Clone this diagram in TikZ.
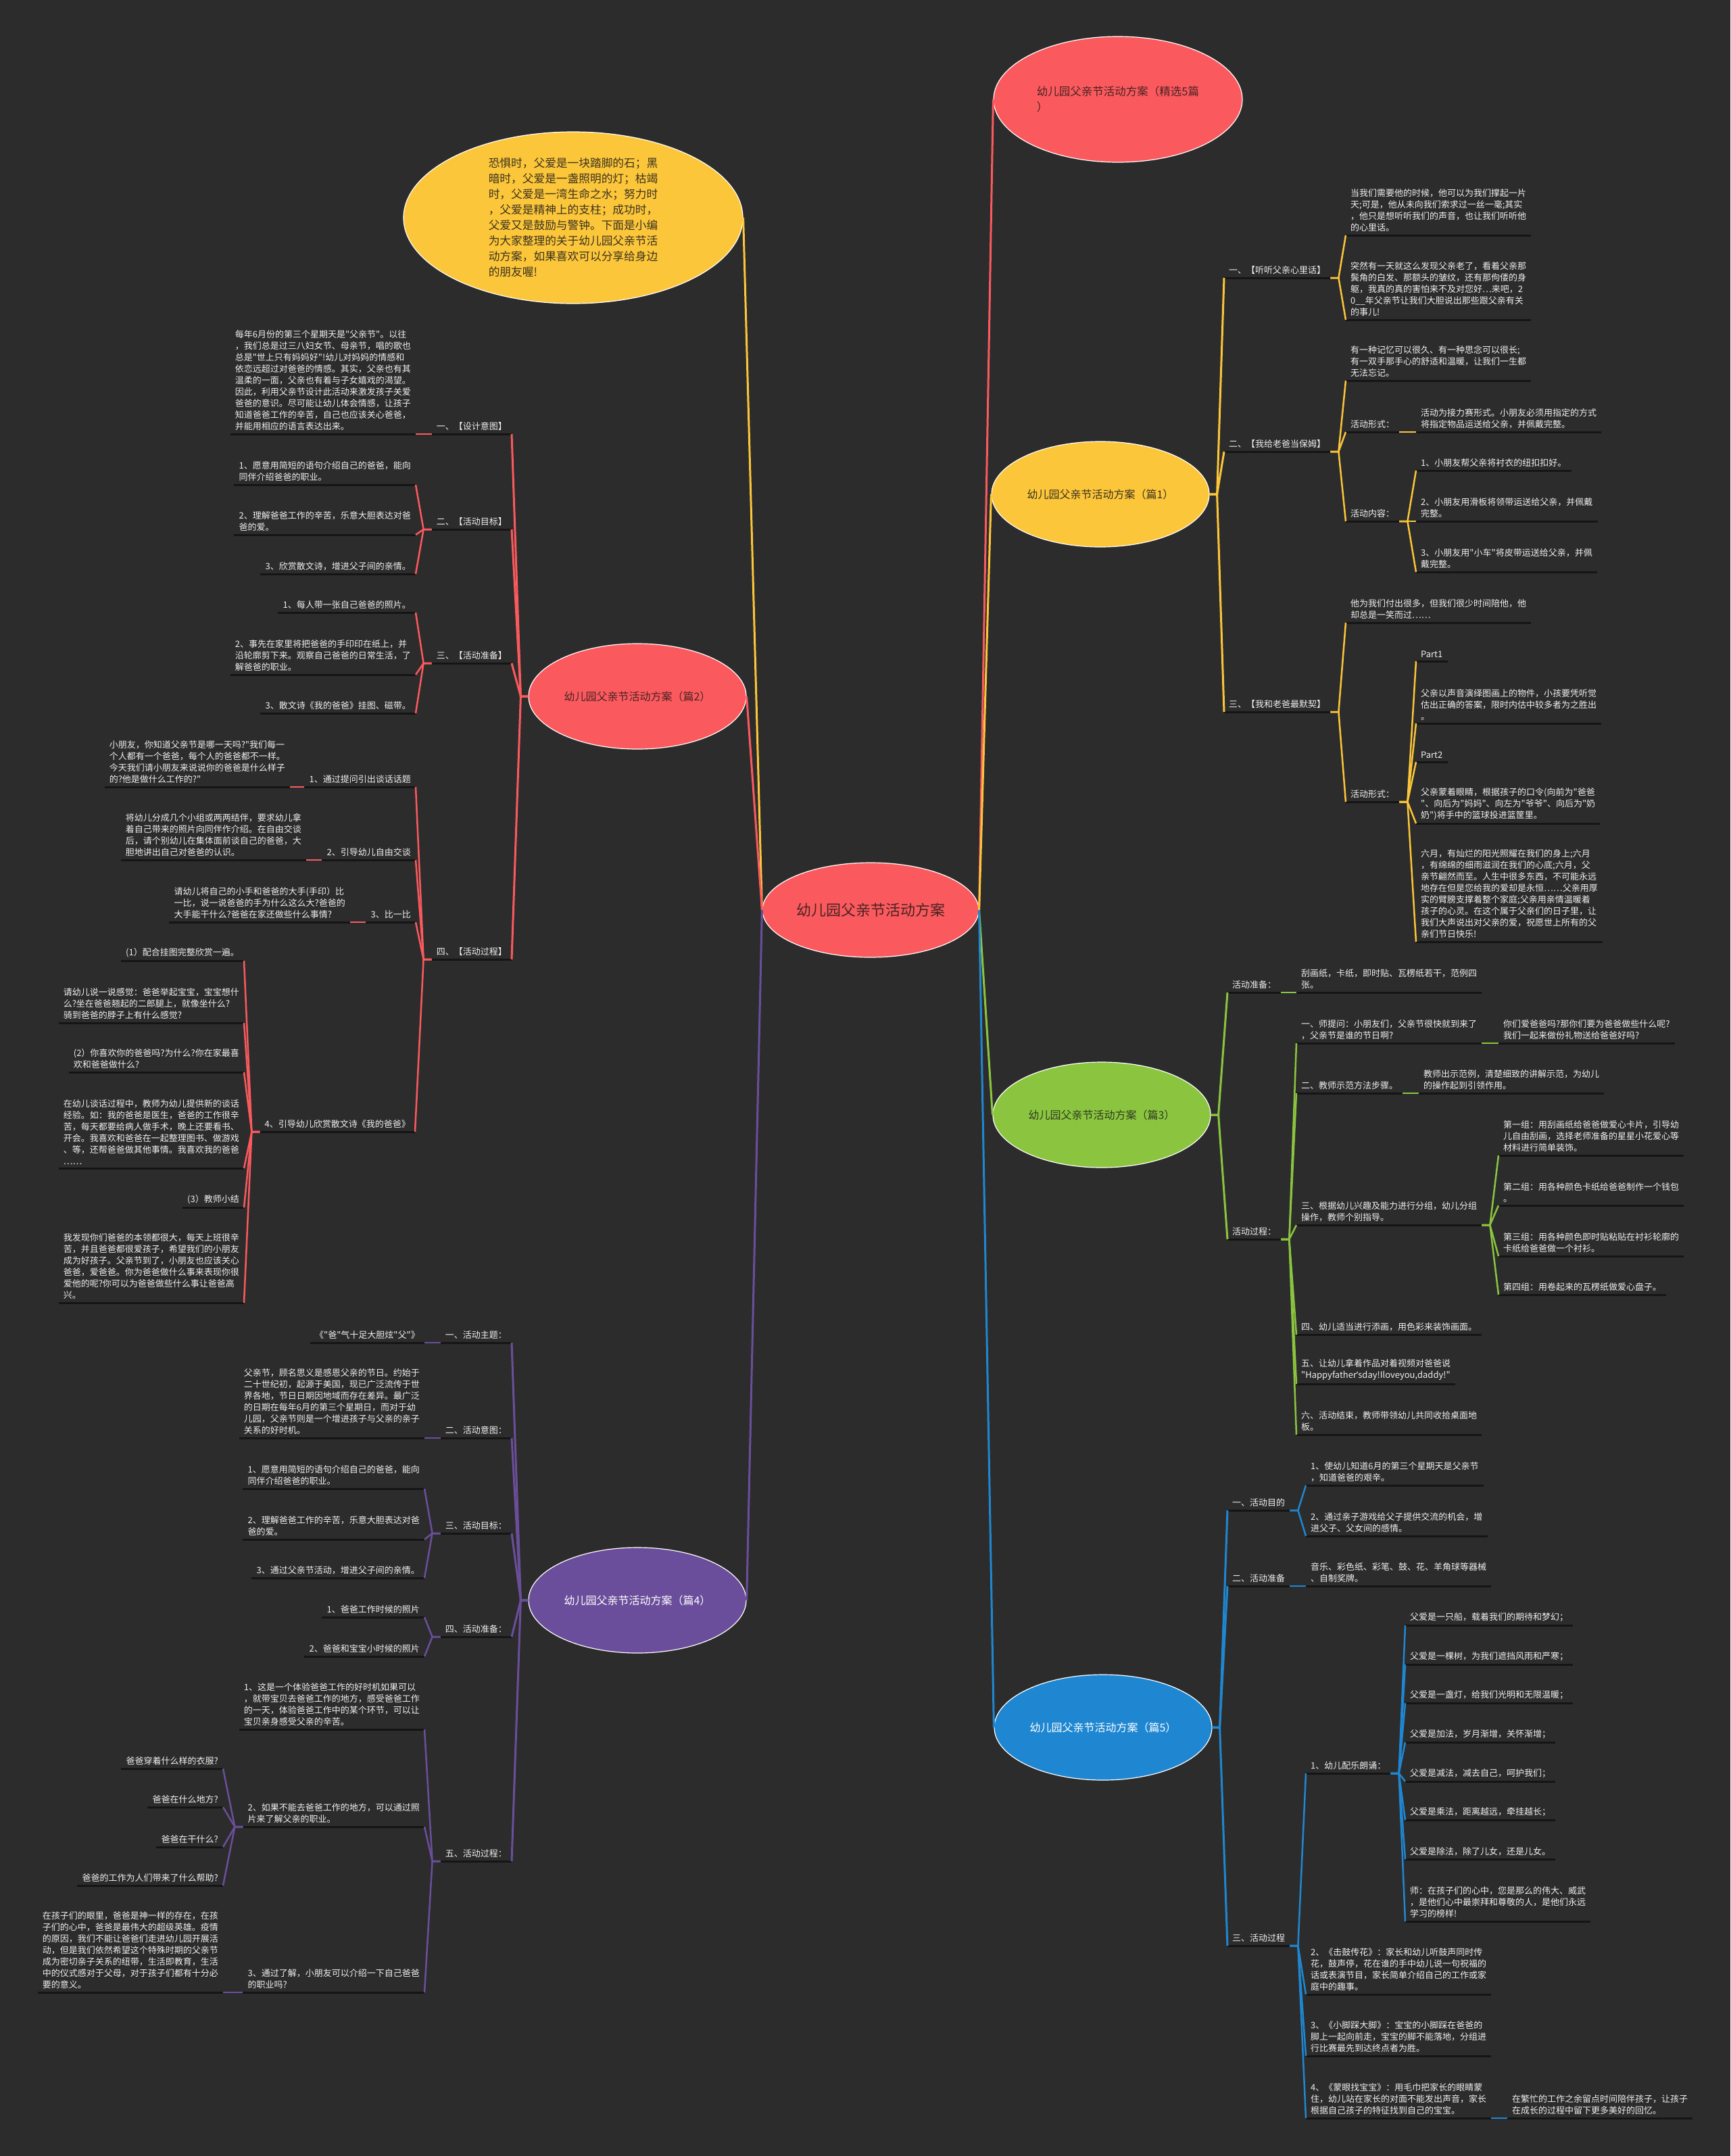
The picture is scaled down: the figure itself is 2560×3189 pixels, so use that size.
\documentclass[tikz,border=0pt]{standalone}
\usepackage{fontspec}
\setmainfont{Noto Sans CJK SC}[Ligatures=TeXOff]
\newfontfamily\latf{Noto Sans}
\usetikzlibrary{shapes.geometric}
\definecolor{bgc}{HTML}{2C2C2C}
\definecolor{cred}{HTML}{FA5A5E}
\definecolor{cyel}{HTML}{FCC63A}
\definecolor{cgrn}{HTML}{8BC53F}
\definecolor{cblu}{HTML}{1F87D1}
\definecolor{cpur}{HTML}{6B4E9B}
\definecolor{txt}{HTML}{F0F0F0}
\definecolor{ulc}{HTML}{151515}
\definecolor{dkred}{HTML}{4A2222}
\definecolor{dkyel}{HTML}{3A3220}
\definecolor{dkgrn}{HTML}{2F3A22}
\tikzset{
 ulline/.style={draw=ulc, line width=3pt},
 lf/.style={font=\fontsize{13}{17}\selectfont, text=txt, align=left, inner xsep=7pt, inner ysep=5pt,
   append after command={(\tikzlastnode.south west) edge[ulline] (\tikzlastnode.south east)}},
 rt/.style={lf, anchor=south west},
 lt/.style={lf, anchor=south east},
 ell/.style={ellipse, draw=white, line width=1.2pt, inner sep=0pt, minimum width=322pt, minimum height=156pt, font=\fontsize{16}{22}\selectfont},
 cn/.style={line width=2.5pt},
 bus/.style={line width=3pt},
}
\newcommand\conR[3]{\foreach \nn in {#3}{\draw[cn,#1] (#2.south east) -- ++(12,0) -- (\nn.south west);}}
\newcommand\conL[3]{\foreach \nn in {#3}{\draw[cn,#1] (#2.south west) -- ++(-12,0) -- (\nn.south east);}}
\newcommand\busR[3]{\foreach \nn in {#3}{\draw[bus,#1] (#2.east) -- ++(11,0) -- (\nn.south west);}}
\newcommand\busL[3]{\foreach \nn in {#3}{\draw[bus,#1] (#2.west) -- ++(-11,0) -- (\nn.south east);}}
\begin{document}
\begin{tikzpicture}[x=1pt,y=-1pt]
\fill[bgc] (0,0) rectangle (2560,3189);
\useasboundingbox (0,0) rectangle (2560,3189);

% ---------- central and branch ellipses ----------
\node[ell, fill=cred, minimum width=320pt, minimum height=140pt, font=\fontsize{22}{26}\selectfont, text=dkred] (cen) at (1288,1346) {幼儿园父亲节活动方案};
\node[ell, fill=cred, minimum width=368pt, minimum height=186pt, font=\fontsize{16.5}{23}\selectfont, text=dkred, align=left] (e0) at (1654,147) {幼儿园父亲节活动方案（精选5篇\\）};
\node[ell, fill=cyel, text=dkyel] (e1) at (1628,731) {幼儿园父亲节活动方案（篇1）};
\node[ell, fill=cgrn, text=dkgrn] (e3) at (1630,1649) {幼儿园父亲节活动方案（篇3）};
\node[ell, fill=cblu, text=white] (e5) at (1632,2555) {幼儿园父亲节活动方案（篇5）};
\node[ell, fill=cred, text=dkred] (e2) at (943,1030) {幼儿园父亲节活动方案（篇2）};
\node[ell, fill=cpur, text=white] (e4) at (943,2367) {幼儿园父亲节活动方案（篇4）};
\node[ell, fill=cyel, minimum width=502pt, minimum height=254pt, text=dkyel, align=left, font=\fontsize{16.7}{23}\selectfont] (intro) at (848,322) {恐惧时，父爱是一块踏脚的石；黑\\暗时，父爱是一盏照明的灯；枯竭\\时，父爱是一湾生命之水；努力时\\，父爱是精神上的支柱；成功时，\\父爱又是鼓励与警钟。下面是小编\\为大家整理的关于幼儿园父亲节活\\动方案，如果喜欢可以分享给身边\\的朋友喔!};

\draw[bus,cred] (cen.east) -- (e0.west);
\draw[bus,cyel] (cen.east) -- (e1.west);
\draw[bus,cgrn] (cen.east) -- (e3.west);
\draw[bus,cblu] (cen.east) -- (e5.west);
\draw[bus,cyel] (cen.west) -- (intro.east);
\draw[bus,cred] (cen.west) -- (e2.east);
\draw[bus,cpur] (cen.west) -- (e4.east);

% ---------- 篇1 (yellow) ----------
\node[rt] (y1) at (1811,411) {一、【听听父亲心里话】};
\node[rt] (y1a) at (1991,348) {当我们需要他的时候，他可以为我们撑起一片\\天;可是，他从未向我们索求过一丝一毫;其实\\，他只是想听听我们的声音，也让我们听听他\\的心里话。};
\node[rt] (y1b) at (1991,473) {突然有一天就这么发现父亲老了，看着父亲那\\鬓角的白发、那额头的皱纹，还有那佝偻的身\\躯，我真的真的害怕来不及对您好…来吧，2\\0\_\_年父亲节让我们大胆说出那些跟父亲有关\\的事儿!};
\node[rt] (y2) at (1811,668) {二、【我给老爸当保姆】};
\node[rt] (y2a) at (1991,563) {有一种记忆可以很久、有一种思念可以很长;\\有一双手那手心的舒适和温暖，让我们一生都\\无法忘记。};
\node[rt] (y2b) at (1991,639) {活动形式：};
\node[rt] (y2b1) at (2095,639) {活动为接力赛形式。小朋友必须用指定的方式\\将指定物品运送给父亲，并佩戴完整。};
\node[rt] (y2c) at (1991,771) {活动内容：};
\node[rt] (y2c1) at (2095,696) {1、小朋友帮父亲将衬衣的纽扣扣好。};
\node[rt] (y2c2) at (2095,771) {2、小朋友用滑板将领带运送给父亲，并佩戴\\完整。};
\node[rt] (y2c3) at (2095,846) {3、小朋友用"小车"将皮带运送给父亲，并佩\\戴完整。};
\node[rt] (y3) at (1811,1053) {三、【我和老爸最默契】};
\node[rt] (y3a) at (1991,921) {他为我们付出很多，但我们很少时间陪他，他\\却总是一笑而过……};
\node[rt] (y3b) at (1991,1186) {活动形式：};
\node[rt] (y3b1) at (2095,978) {Part1};
\node[rt] (y3b2) at (2095,1070) {父亲以声音演绎图画上的物件，小孩要凭听觉\\估出正确的答案，限时内估中较多者为之胜出\\。};
\node[rt] (y3b3) at (2095,1127) {Part2};
\node[rt] (y3b4) at (2095,1218) {父亲蒙着眼睛，根据孩子的口令(向前为"爸爸\\"、向后为"妈妈"、向左为"爷爷"、向后为"奶\\奶")将手中的篮球投进篮筐里。};
\node[rt] (y3b5) at (2095,1393) {六月，有灿烂的阳光照耀在我们的身上;六月\\，有绵绵的细雨滋润在我们的心底;六月，父\\亲节翩然而至。人生中很多东西，不可能永远\\地存在但是您给我的爱却是永恒……父亲用厚\\实的臂膀支撑着整个家庭;父亲用亲情温暖着\\孩子的心灵。在这个属于父亲们的日子里，让\\我们大声说出对父亲的爱，祝愿世上所有的父\\亲们节日快乐!};
\busR{cyel}{e1}{y1,y2,y3}
\conR{cyel}{y1}{y1a,y1b}
\conR{cyel}{y2}{y2a,y2b,y2c}
\conR{cyel}{y2b}{y2b1}
\conR{cyel}{y2c}{y2c1,y2c2,y2c3}
\conR{cyel}{y3}{y3a,y3b}
\conR{cyel}{y3b}{y3b1,y3b2,y3b3,y3b4,y3b5}

% ---------- 篇3 (green) ----------
\node[rt] (g1) at (1816,1468) {活动准备：};
\node[rt] (g1a) at (1918,1468) {刮画纸，卡纸，即时贴、瓦楞纸若干，范例四\\张。};
\node[rt] (g2) at (1816,1833) {活动过程：};
\node[rt] (g2a) at (1918,1543) {一、师提问：小朋友们，父亲节很快就到来了\\，父亲节是谁的节日啊?};
\node[rt] (g2a1) at (2217,1543) {你们爱爸爸吗?那你们要为爸爸做些什么呢?\\我们一起来做份礼物送给爸爸好吗?};
\node[rt] (g2b) at (1918,1617) {二、教师示范方法步骤。};
\node[rt] (g2b1) at (2099,1617) {教师出示范例，清楚细致的讲解示范，为幼儿\\的操作起到引领作用。};
\node[rt] (g2c) at (1918,1812) {三、根据幼儿兴趣及能力进行分组，幼儿分组\\操作，教师个别指导。};
\node[rt] (g2c1) at (2217,1709) {第一组：用刮画纸给爸爸做爱心卡片，引导幼\\儿自由刮画，选择老师准备的星星小花爱心等\\材料进行简单装饰。};
\node[rt] (g2c2) at (2217,1783) {第二组：用各种颜色卡纸给爸爸制作一个钱包\\。};
\node[rt] (g2c3) at (2217,1858) {第三组：用各种颜色即时贴粘贴在衬衫轮廓的\\卡纸给爸爸做一个衬衫。};
\node[rt] (g2c4) at (2217,1915) {第四组：用卷起来的瓦楞纸做爱心盘子。};
\node[rt] (g2d) at (1918,1974) {四、幼儿适当进行添画，用色彩来装饰画面。};
\node[rt] (g2e) at (1918,2047) {五、让幼儿拿着作品对着视频对爸爸说\\"Happyfather{\latf ’}sday!Iloveyou,daddy!"};
\node[rt] (g2f) at (1918,2122) {六、活动结束，教师带领幼儿共同收拾桌面地\\板。};
\busR{cgrn}{e3}{g1,g2}
\conR{cgrn}{g1}{g1a}
\conR{cgrn}{g2}{g2a,g2b,g2c,g2d,g2e,g2f}
\conR{cgrn}{g2a}{g2a1}
\conR{cgrn}{g2b}{g2b1}
\conR{cgrn}{g2c}{g2c1,g2c2,g2c3,g2c4}

% ---------- 篇5 (blue) ----------
\node[rt] (b1) at (1816,2234) {一、活动目的};
\node[rt] (b1a) at (1932,2197) {1、使幼儿知道6月的第三个星期天是父亲节\\，知道爸爸的艰辛。};
\node[rt] (b1b) at (1932,2272) {2、通过亲子游戏给父子提供交流的机会，增\\进父子、父女间的感情。};
\node[rt] (b2) at (1816,2346) {二、活动准备};
\node[rt] (b2a) at (1932,2346) {音乐、彩色纸、彩笔、鼓、花、羊角球等器械\\、自制奖牌。};
\node[rt] (b3) at (1816,2878) {三、活动过程};
\node[rt] (b3a) at (1932,2623) {1、幼儿配乐朗诵：};
\node[rt] (b3a1) at (2079,2404) {父爱是一只船，载着我们的期待和梦幻；};
\node[rt] (b3a2) at (2079,2462) {父爱是一棵树，为我们遮挡风雨和严寒；};
\node[rt] (b3a3) at (2079,2519) {父爱是一盏灯，给我们光明和无限温暖；};
\node[rt] (b3a4) at (2079,2577) {父爱是加法，岁月渐增，关怀渐增；};
\node[rt] (b3a5) at (2079,2635) {父爱是减法，减去自己，呵护我们；};
\node[rt] (b3a6) at (2079,2692) {父爱是乘法，距离越远，牵挂越长；};
\node[rt] (b3a7) at (2079,2750) {父爱是除法，除了儿女，还是儿女。};
\node[rt] (b3a8) at (2079,2842) {师：在孩子们的心中，您是那么的伟大、威武\\，是他们心中最崇拜和尊敬的人，是他们永远\\学习的榜样!};
\node[rt] (b3b) at (1932,2950) {2、《击鼓传花》：家长和幼儿听鼓声同时传\\花，鼓声停，花在谁的手中幼儿说一句祝福的\\话或表演节目，家长简单介绍自己的工作或家\\庭中的趣事。};
\node[rt] (b3c) at (1932,3041) {3、《小脚踩大脚》：宝宝的小脚踩在爸爸的\\脚上一起向前走，宝宝的脚不能落地，分组进\\行比赛最先到达终点者为胜。};
\node[rt] (b3d) at (1932,3133) {4、《蒙眼找宝宝》：用毛巾把家长的眼睛蒙\\住，幼儿站在家长的对面不能发出声音，家长\\根据自己孩子的特征找到自己的宝宝。};
\node[rt] (b3d1) at (2230,3133) {在繁忙的工作之余留点时间陪伴孩子，让孩子\\在成长的过程中留下更多美好的回忆。};
\busR{cblu}{e5}{b1,b2,b3}
\conR{cblu}{b1}{b1a,b1b}
\conR{cblu}{b2}{b2a}
\conR{cblu}{b3}{b3a,b3b,b3c,b3d}
\conR{cblu}{b3a}{b3a1,b3a2,b3a3,b3a4,b3a5,b3a6,b3a7,b3a8}
\conR{cblu}{b3d}{b3d1}

% ---------- 篇2 (red, left) ----------
\node[lt] (r1) at (757,642) {一、【设计意图】};
\node[lt] (r1a) at (615,642) {每年6月份的第三个星期天是"父亲节"。以往\\，我们总是过三八妇女节、母亲节，唱的歌也\\总是"世上只有妈妈好"!幼儿对妈妈的情感和\\依恋远超过对爸爸的情感。其实，父亲也有其\\温柔的一面，父亲也有着与子女嬉戏的渴望。\\因此，利用父亲节设计此活动来激发孩子关爱\\爸爸的意识。尽可能让幼儿体会情感，让孩子\\知道爸爸工作的辛苦，自己也应该关心爸爸，\\并能用相应的语言表达出来。};
\node[lt] (r2) at (757,783) {二、【活动目标】};
\node[lt] (r2a) at (615,717) {1、愿意用简短的语句介绍自己的爸爸，能向\\同伴介绍爸爸的职业。};
\node[lt] (r2b) at (615,791) {2、理解爸爸工作的辛苦，乐意大胆表达对爸\\爸的爱。};
\node[lt] (r2c) at (615,849) {3、欣赏散文诗，增进父子间的亲情。};
\node[lt] (r3) at (757,981) {三、【活动准备】};
\node[lt] (r3a) at (615,906) {1、每人带一张自己爸爸的照片。};
\node[lt] (r3b) at (615,998) {2、事先在家里将把爸爸的手印印在纸上，并\\沿轮廓剪下来。观察自己爸爸的日常生活，了\\解爸爸的职业。};
\node[lt] (r3c) at (615,1055) {3、散文诗《我的爸爸》挂图、磁带。};
\node[lt] (r4) at (757,1419) {四、【活动过程】};
\node[lt] (r4a) at (615,1164) {1、通过提问引出谈话话题};
\node[lt] (r4a1) at (429,1164) {小朋友，你知道父亲节是哪一天吗?"我们每一\\个人都有一个爸爸，每个人的爸爸都不一样。\\今天我们请小朋友来说说你的爸爸是什么样子\\的?他是做什么工作的?"};
\node[lt] (r4b) at (615,1272) {2、引导幼儿自由交谈};
\node[lt] (r4b1) at (453,1272) {将幼儿分成几个小组或两两结伴，要求幼儿拿\\着自己带来的照片向同伴作介绍。在自由交谈\\后，请个别幼儿在集体面前谈自己的爸爸，大\\胆地讲出自己对爸爸的认识。};
\node[lt] (r4c) at (615,1364) {3、比一比};
\node[lt] (r4c1) at (518,1364) {请幼儿将自己的小手和爸爸的大手(手印）比\\一比，说一说爸爸的手为什么这么大?爸爸的\\大手能干什么?爸爸在家还做些什么事情?};
\node[lt] (r4d) at (614,1674) {4、引导幼儿欣赏散文诗《我的爸爸》};
\node[lt] (r4d1) at (361,1421) {(1）配合挂图完整欣赏一遍。};
\node[lt] (r4d2) at (361,1513) {请幼儿说一说感觉：爸爸举起宝宝，宝宝想什\\么?坐在爸爸翘起的二郎腿上，就像坐什么?\\骑到爸爸的脖子上有什么感觉?};
\node[lt] (r4d3) at (361,1586) {(2）你喜欢你的爸爸吗?为什么?你在家最喜\\欢和爸爸做什么?};
\node[lt] (r4d4) at (361,1728) {在幼儿谈话过程中，教师为幼儿提供新的谈话\\经验。如：我的爸爸是医生，爸爸的工作很辛\\苦，每天都要给病人做手术，晚上还要看书、\\开会。我喜欢和爸爸在一起整理图书、做游戏\\、等，还帮爸爸做其他事情。我喜欢我的爸爸\\……};
\node[lt] (r4d5) at (361,1786) {(3）教师小结};
\node[lt] (r4d6) at (361,1927) {我发现你们爸爸的本领都很大，每天上班很辛\\苦，并且爸爸都很爱孩子，希望我们的小朋友\\成为好孩子。父亲节到了，小朋友也应该关心\\爸爸，爱爸爸。你为爸爸做什么事来表现你很\\爱他的呢?你可以为爸爸做些什么事让爸爸高\\兴。};
\busL{cred}{e2}{r1,r2,r3,r4}
\conL{cred}{r1}{r1a}
\conL{cred}{r2}{r2a,r2b,r2c}
\conL{cred}{r3}{r3a,r3b,r3c}
\conL{cred}{r4}{r4a,r4b,r4c,r4d}
\conL{cred}{r4a}{r4a1}
\conL{cred}{r4b}{r4b1}
\conL{cred}{r4c}{r4c1}
\conL{cred}{r4d}{r4d1,r4d2,r4d3,r4d4,r4d5,r4d6}

% ---------- 篇4 (purple, left) ----------
\node[lt] (p1) at (757,1986) {一、活动主题：};
\node[lt] (p1a) at (628,1986) {《"爸"气十足大胆炫"父"》};
\node[lt] (p2) at (757,2127) {二、活动意图：};
\node[lt] (p2a) at (628,2127) {父亲节，顾名思义是感恩父亲的节日。约始于\\二十世纪初，起源于美国，现已广泛流传于世\\界各地，节日日期因地域而存在差异。最广泛\\的日期在每年6月的第三个星期日，而对于幼\\儿园，父亲节则是一个增进孩子与父亲的亲子\\关系的好时机。};
\node[lt] (p3) at (757,2268) {三、活动目标：};
\node[lt] (p3a) at (628,2202) {1、愿意用简短的语句介绍自己的爸爸，能向\\同伴介绍爸爸的职业。};
\node[lt] (p3b) at (628,2277) {2、理解爸爸工作的辛苦，乐意大胆表达对爸\\爸的爱。};
\node[lt] (p3c) at (628,2334) {3、通过父亲节活动，增进父子间的亲情。};
\node[lt] (p4) at (757,2421) {四、活动准备：};
\node[lt] (p4a) at (628,2392) {1、爸爸工作时候的照片};
\node[lt] (p4b) at (628,2450) {2、爸爸和宝宝小时候的照片};
\node[lt] (p5) at (757,2753) {五、活动过程：};
\node[lt] (p5a) at (628,2558) {1、这是一个体验爸爸工作的好时机如果可以\\，就带宝贝去爸爸工作的地方，感受爸爸工作\\的一天，体验爸爸工作中的某个环节，可以让\\宝贝亲身感受父亲的辛苦。};
\node[lt] (p5b) at (628,2702) {2、如果不能去爸爸工作的地方，可以通过照\\片来了解父亲的职业。};
\node[lt] (p5b1) at (330,2616) {爸爸穿着什么样的衣服?};
\node[lt] (p5b2) at (330,2673) {爸爸在什么地方?};
\node[lt] (p5b3) at (330,2732) {爸爸在干什么?};
\node[lt] (p5b4) at (330,2789) {爸爸的工作为人们带来了什么帮助?};
\node[lt] (p5c) at (628,2947) {3、通过了解，小朋友可以介绍一下自己爸爸\\的职业吗?};
\node[lt] (p5c1) at (330,2947) {在孩子们的眼里，爸爸是神一样的存在，在孩\\子们的心中，爸爸是最伟大的超级英雄。疫情\\的原因，我们不能让爸爸们走进幼儿园开展活\\动，但是我们依然希望这个特殊时期的父亲节\\成为密切亲子关系的纽带，生活即教育，生活\\中的仪式感对于父母，对于孩子们都有十分必\\要的意义。};
\busL{cpur}{e4}{p1,p2,p3,p4,p5}
\conL{cpur}{p1}{p1a}
\conL{cpur}{p2}{p2a}
\conL{cpur}{p3}{p3a,p3b,p3c}
\conL{cpur}{p4}{p4a,p4b}
\conL{cpur}{p5}{p5a,p5b,p5c}
\conL{cpur}{p5b}{p5b1,p5b2,p5b3,p5b4}
\conL{cpur}{p5c}{p5c1}
\end{tikzpicture}
\end{document}
